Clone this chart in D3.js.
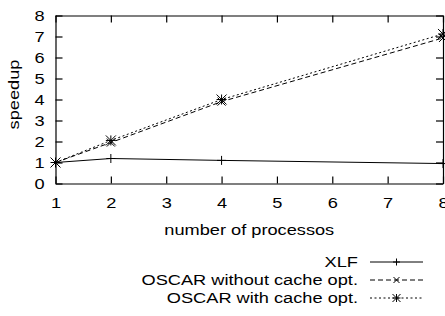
<!DOCTYPE html>
<html>
<head>
<meta charset="utf-8">
<script src="https://cdn.jsdelivr.net/npm/d3@7"></script>
<style>
  body { margin: 0; background: #fff; }
  svg text { font-family: "Liberation Sans", Arial, sans-serif; font-size: 14px; fill: #000; }
</style>
</head>
<body>
<svg id="chart" width="445" height="316"></svg>
<script>
// data
let procs = [1, 2, 4, 8];
let xlf = [1, 1.19, 1.1, 0.95];
let oscarNoCache = [1, 1.95, 3.9, 6.93];
let oscarCache = [1, 2.05, 4.0, 7.12];
let seriesNames = ["XLF", "OSCAR without cache opt.", "OSCAR with cache opt."];
let xTicks = [1, 2, 3, 4, 5, 6, 7, 8];
let yTicks = [0, 1, 2, 3, 4, 5, 6, 7, 8];

let svg = d3.select("#chart");
let plotLeft = 55.5, plotRight = 443, plotTop = 15.5, plotBottom = 183.5;
let tick = 7;
let stretchX = 1.3; // text in the original is widened

let x = d3.scaleLinear().domain([1, 8]).range([plotLeft, plotRight]);
let y = d3.scaleLinear().domain([0, 8]).range([plotBottom, plotTop]);

// widen glyphs like the reference
function stretch(sel) {
    sel.each(function() {
        let len = this.getComputedTextLength();
        d3.select(this)
            .attr("textLength", len * stretchX)
            .attr("lengthAdjust", "spacingAndGlyphs");
    });
}

// axes: ticks point inward on all four sides
let fmt = d3.format("d");
let gLeft = svg.append("g").attr("transform", `translate(${plotLeft},0)`)
    .call(d3.axisLeft(y).tickValues(yTicks).tickFormat(fmt).tickSizeInner(-tick).tickSizeOuter(0).tickPadding(11));
let gBottom = svg.append("g").attr("transform", `translate(0,${plotBottom})`)
    .call(d3.axisBottom(x).tickValues(xTicks).tickFormat(fmt).tickSizeInner(-tick).tickSizeOuter(0).tickPadding(15));
svg.append("g").attr("transform", `translate(0,${plotTop})`)
    .call(d3.axisTop(x).tickValues(xTicks).tickSizeInner(-tick).tickSizeOuter(0).tickFormat(""));
svg.append("g").attr("transform", `translate(${plotRight},0)`)
    .call(d3.axisRight(y).tickValues(yTicks).tickSizeInner(-tick).tickSizeOuter(0).tickFormat(""));

svg.selectAll(".domain, .tick line").attr("stroke", "#000").attr("stroke-width", 1.2);
svg.selectAll("g").attr("font-size", null).attr("font-family", null);
gLeft.selectAll(".tick text").attr("dy", "0.36em");
stretch(gLeft.selectAll(".tick text"));
stretch(gBottom.selectAll(".tick text"));

// axis titles
svg.append("text")
    .attr("x", (plotLeft + plotRight) / 2)
    .attr("y", 235)
    .attr("text-anchor", "middle")
    .text("number of processos")
    .call(stretch);

svg.append("text")
    .attr("transform", `translate(19,${(plotTop + plotBottom) / 2 - 5}) rotate(-90)`)
    .attr("text-anchor", "middle")
    .text("speedup")
    .call(stretch);

// markers
function markerPath(kind, h) {
    let plus = `M${-h},0H${h}M0,${-h}V${h}`;
    let cross = `M${-h},${-h}L${h},${h}M${-h},${h}L${h},${-h}`;
    if (kind === "plus") return plus;
    if (kind === "cross") return cross;
    return plus + cross;
}

let series = [
    { name: seriesNames[0], values: xlf, dash: null, marker: "plus", size: 4.5 },
    { name: seriesNames[1], values: oscarNoCache, dash: "5,3", marker: "cross", size: 4 },
    { name: seriesNames[2], values: oscarCache, dash: "2,2.5", marker: "star", size: 5 }
];

let line = d3.line()
    .x((d, i) => x(procs[i]))
    .y(d => y(d));

let plot = svg.append("g");
series.forEach((s) => {
    plot.append("path")
        .attr("d", line(s.values))
        .attr("fill", "none")
        .attr("stroke", "#000")
        .attr("stroke-width", 1)
        .attr("stroke-dasharray", s.dash);
    plot.selectAll(null)
        .data(s.values)
        .enter().append("path")
        .attr("transform", (d, i) => `translate(${x(procs[i])},${y(d)})`)
        .attr("d", markerPath(s.marker, s.size))
        .attr("stroke", "#000")
        .attr("stroke-width", 1);
});

// legend
let legendY = [267, 285, 303];
let lx0 = 370, lx1 = 423, textX = 358;
series.forEach((s, i) => {
    let g = svg.append("g");
    g.append("text")
        .attr("x", textX)
        .attr("y", legendY[i])
        .attr("text-anchor", "end")
        .text(s.name)
        .call(stretch);
    let ly = legendY[i] - 5;
    g.append("line")
        .attr("x1", lx0).attr("x2", lx1)
        .attr("y1", ly).attr("y2", ly)
        .attr("stroke", "#000")
        .attr("stroke-width", 1)
        .attr("stroke-dasharray", s.dash);
    g.append("path")
        .attr("transform", `translate(${(lx0 + lx1) / 2},${ly})`)
        .attr("d", markerPath(s.marker, s.size - 1))
        .attr("stroke", "#000")
        .attr("stroke-width", 1);
});
</script>
</body>
</html>
